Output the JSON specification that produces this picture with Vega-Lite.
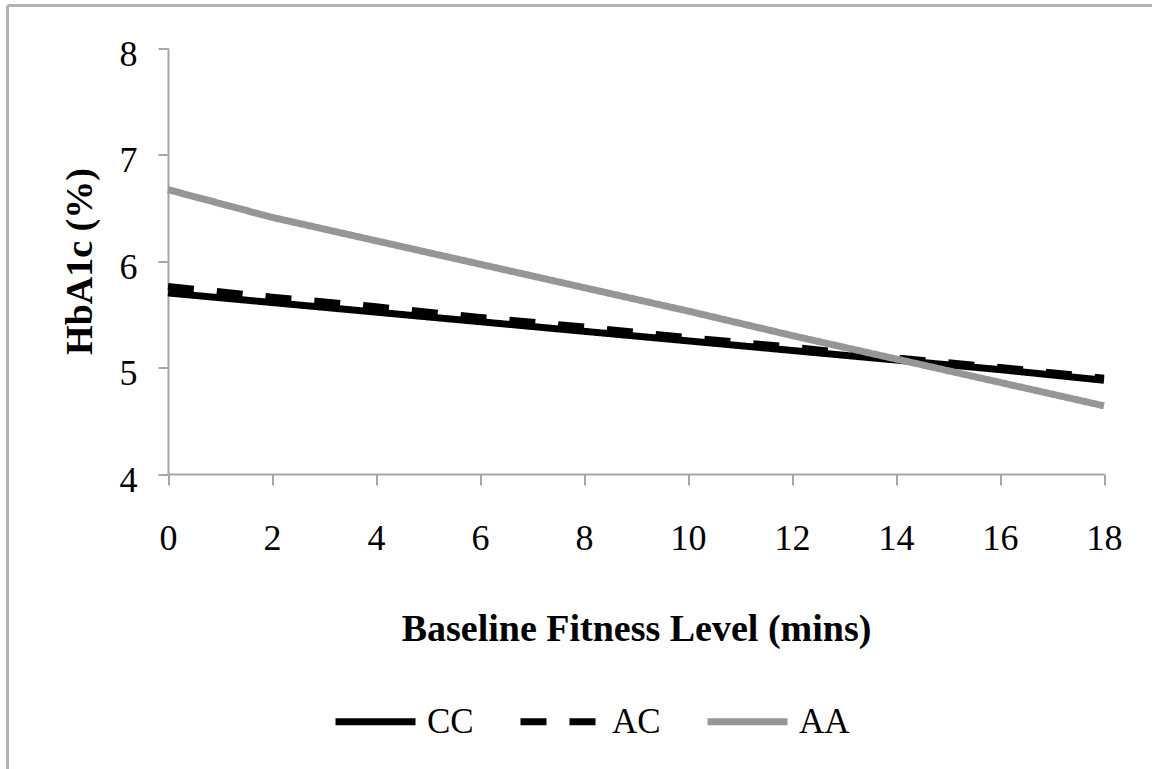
{
  "$schema": "https://vega.github.io/schema/vega-lite/v6.json",
  "autosize": {"type": "none"},
  "padding": {"left": 7.5, "top": 5.5, "right": 0, "bottom": 0},
  "width": 1144.5,
  "height": 763.5,
  "background": "white",
  "config": {
    "view": {"stroke": "#b2b2b2", "strokeWidth": 3, "strokeDash": [1144.5, 1908, 763.5, 0]},
    "font": "Liberation Serif",
    "axis": {
      "grid": false,
      "labelFlush": false,
      "domainColor": "#a6a6a6",
      "domainWidth": 2,
      "tickColor": "#a6a6a6",
      "tickWidth": 2,
      "labelFont": "Liberation Serif",
      "labelFontSize": 36,
      "labelColor": "#000000",
      "titleFont": "Liberation Serif",
      "titleFontSize": 38,
      "titleFontWeight": "bold",
      "titleColor": "#000000"
    }
  },
  "data": {
    "values": [
      {"fitness": 0, "genotype": "CC", "hba1c": 5.70},
      {"fitness": 2, "genotype": "CC", "hba1c": 5.61},
      {"fitness": 4, "genotype": "CC", "hba1c": 5.52},
      {"fitness": 6, "genotype": "CC", "hba1c": 5.43},
      {"fitness": 8, "genotype": "CC", "hba1c": 5.34},
      {"fitness": 10, "genotype": "CC", "hba1c": 5.25},
      {"fitness": 12, "genotype": "CC", "hba1c": 5.16},
      {"fitness": 14, "genotype": "CC", "hba1c": 5.07},
      {"fitness": 16, "genotype": "CC", "hba1c": 4.98},
      {"fitness": 18, "genotype": "CC", "hba1c": 4.88},
      {"fitness": 0, "genotype": "AC", "hba1c": 5.76},
      {"fitness": 2, "genotype": "AC", "hba1c": 5.66},
      {"fitness": 4, "genotype": "AC", "hba1c": 5.57},
      {"fitness": 6, "genotype": "AC", "hba1c": 5.47},
      {"fitness": 8, "genotype": "AC", "hba1c": 5.38},
      {"fitness": 10, "genotype": "AC", "hba1c": 5.28},
      {"fitness": 12, "genotype": "AC", "hba1c": 5.19},
      {"fitness": 14, "genotype": "AC", "hba1c": 5.09},
      {"fitness": 16, "genotype": "AC", "hba1c": 5.00},
      {"fitness": 18, "genotype": "AC", "hba1c": 4.90},
      {"fitness": 0, "genotype": "AA", "hba1c": 6.67},
      {"fitness": 2, "genotype": "AA", "hba1c": 6.41},
      {"fitness": 4, "genotype": "AA", "hba1c": 6.19},
      {"fitness": 6, "genotype": "AA", "hba1c": 5.97},
      {"fitness": 8, "genotype": "AA", "hba1c": 5.75},
      {"fitness": 10, "genotype": "AA", "hba1c": 5.53},
      {"fitness": 12, "genotype": "AA", "hba1c": 5.30},
      {"fitness": 14, "genotype": "AA", "hba1c": 5.08},
      {"fitness": 16, "genotype": "AA", "hba1c": 4.86},
      {"fitness": 18, "genotype": "AA", "hba1c": 4.64}
    ]
  },
  "mark": {"type": "line", "strokeWidth": 7, "strokeCap": "butt"},
  "encoding": {
    "x": {
      "field": "fitness",
      "type": "quantitative",
      "scale": {"domain": [0, 18], "range": [160.5, 1096.5], "nice": false, "zero": false},
      "axis": {
        "title": "Baseline Fitness Level (mins)",
        "values": [0, 2, 4, 6, 8, 10, 12, 14, 16, 18],
        "offset": -295,
        "tickSize": 11,
        "labelPadding": 36,
        "labelFlush": false,
        "titleY": 166,
        "titleBaseline": "alphabetic"
      }
    },
    "y": {
      "field": "hba1c",
      "type": "quantitative",
      "scale": {"domain": [4, 8], "range": [468.5, 42.5], "nice": false, "zero": false},
      "axis": {
        "title": "HbA1c (%)",
        "values": [4, 5, 6, 7, 8],
        "offset": -160.5,
        "tickSize": 10,
        "labelPadding": 21,
        "labelOffset": 6,
        "labelFlush": false,
        "titleX": -77,
        "titleBaseline": "alphabetic"
      }
    },
    "color": {
      "field": "genotype",
      "type": "nominal",
      "sort": ["CC", "AC", "AA"],
      "scale": {"domain": ["CC", "AC", "AA"], "range": ["#000000", "#000000", "#969696"]},
      "legend": {
        "title": null,
        "orient": "none",
        "direction": "horizontal",
        "legendX": 324.5,
        "legendY": 672.5,
        "padding": 0,
        "symbolType": "stroke",
        "symbolSize": 6400,
        "symbolStrokeWidth": 7,
        "labelFont": "Liberation Serif",
        "labelFontSize": 35,
        "labelColor": "#000000",
        "labelOffset": 8,
        "columnPadding": 32
      }
    },
    "strokeDash": {
      "field": "genotype",
      "type": "nominal",
      "sort": ["CC", "AC", "AA"],
      "scale": {"domain": ["CC", "AC", "AA"], "range": [[1, 0], [26, 23], [1, 0]]},
      "legend": {
        "title": null,
        "orient": "none",
        "direction": "horizontal",
        "legendX": 324.5,
        "legendY": 672.5,
        "padding": 0,
        "symbolType": "stroke",
        "symbolSize": 6400,
        "symbolStrokeWidth": 7,
        "labelFont": "Liberation Serif",
        "labelFontSize": 35,
        "labelColor": "#000000",
        "labelOffset": 8,
        "columnPadding": 32
      }
    }
  }
}
